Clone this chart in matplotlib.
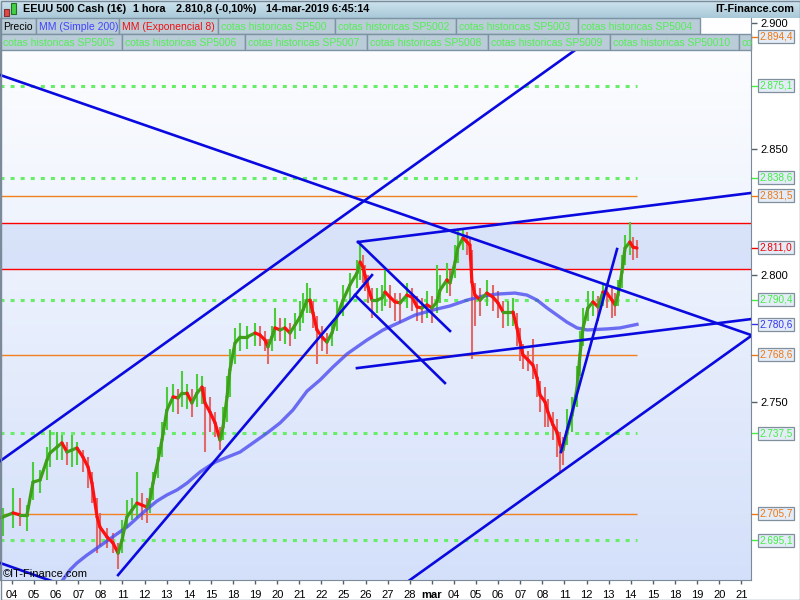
import numpy as np
import matplotlib.pyplot as plt
from matplotlib.colors import LinearSegmentedColormap
from matplotlib.collections import LineCollection
from matplotlib.patches import Rectangle
from matplotlib.transforms import blended_transform_factory

plt.rcParams['font.family'] = ['Liberation Sans', 'DejaVu Sans']

# ---- data ----
# x = trading day index (0 = 04 feb, 19 = 01 mar), y = index points

day_labels = ['04', '05', '06', '07', '08', '11', '12', '13', '14', '15',
              '18', '19', '20', '21', '22', '25', '26', '27', '28', 'mar',
              '04', '05', '06', '07', '08', '11', '12', '13', '14', '15',
              '18', '19', '20', '21']

# MM (Exponencial 8) - the thick red/green line
ema_t = [-0.54, -0.41, 0.05, 0.36, 0.68, 0.95, 1.27, 1.58, 1.72, 2.04,
         2.26, 2.49, 2.71, 2.94, 3.21, 3.44, 3.62, 3.85, 3.98, 4.30,
         4.57, 4.80, 4.98, 5.20, 5.43, 5.66, 5.88, 6.11, 6.24, 6.38,
         6.61, 6.79, 7.01, 7.29, 7.51, 7.69, 7.92, 8.14, 8.37, 8.60,
         8.73, 8.96, 9.19, 9.41, 9.55, 9.73, 9.86, 10.09, 10.32, 10.63,
         11.00, 11.22, 11.45, 11.58, 11.76, 11.90, 12.13, 12.35, 12.58, 12.81,
         13.03, 13.17, 13.35, 13.48, 13.62, 13.80, 14.03, 14.25, 14.48, 14.71,
         14.98, 15.29, 15.61, 15.75, 15.88, 15.97, 16.11, 16.29, 16.52, 16.74,
         16.88, 17.10, 17.33, 17.56, 17.87, 18.10, 18.33, 18.55, 18.78, 19.00,
         19.23, 19.37, 19.68, 19.82, 20.05, 20.18, 20.41, 20.59, 20.72, 20.81,
         20.95, 21.18, 21.49, 21.76, 21.99, 22.22, 22.44, 22.67, 22.85, 22.99,
         23.12, 23.35, 23.57, 23.76, 23.89, 24.12, 24.25, 24.48, 24.66, 24.80,
         24.93, 25.11, 25.34, 25.57, 25.70, 25.84, 26.06, 26.29, 26.52, 26.74,
         26.92, 27.15, 27.29, 27.42, 27.60, 27.74, 27.96, 28.10, 28.28]
ema_v = [2704.0, 2704.4, 2706.0, 2705.2, 2705.2, 2718.2, 2719.0, 2726.9, 2729.7, 2732.1,
         2733.7, 2730.1, 2730.9, 2731.7, 2728.1, 2724.2, 2717.8, 2704.4, 2700.4, 2696.5,
         2694.1, 2690.1, 2695.3, 2704.4, 2707.2, 2709.9, 2709.1, 2708.3, 2711.1, 2717.8,
         2726.9, 2735.0, 2746.7, 2751.9, 2751.5, 2753.4, 2753.4, 2749.5, 2753.4, 2755.8,
         2749.5, 2745.9, 2741.6, 2734.9, 2740.0, 2751.9, 2762.6, 2773.2, 2775.6, 2775.6,
         2777.2, 2776.4, 2774.4, 2771.7, 2775.6, 2779.2, 2778.4, 2779.2, 2777.2, 2780.4,
         2783.5, 2786.3, 2790.2, 2790.2, 2785.1, 2778.4, 2775.6, 2773.6, 2777.2, 2783.9,
         2790.2, 2796.2, 2800.9, 2805.3, 2803.3, 2800.1, 2795.4, 2790.2, 2790.2, 2791.0,
         2793.4, 2791.4, 2789.5, 2789.1, 2792.2, 2791.4, 2787.5, 2787.1, 2788.3, 2787.1,
         2789.5, 2794.2, 2798.2, 2797.0, 2805.3, 2811.2, 2814.8, 2813.2, 2812.0, 2797.4,
         2792.2, 2790.2, 2793.0, 2791.4, 2789.1, 2785.5, 2785.5, 2785.5, 2779.2, 2773.6,
         2768.5, 2766.5, 2764.5, 2759.4, 2752.7, 2749.9, 2745.9, 2740.8, 2738.0, 2732.9,
         2730.9, 2738.0, 2744.7, 2755.4, 2768.5, 2779.2, 2787.1, 2789.5, 2787.5, 2793.4,
         2793.0, 2790.2, 2788.3, 2792.2, 2801.3, 2810.8, 2813.2, 2811.2, 2810.8]

# Precio - hourly candle extremes at the same positions
candle_hi = [2712, 2708, 2716, 2712, 2709, 2726, 2723, 2732, 2739, 2738,
             2737, 2734, 2737, 2734, 2731, 2728, 2722, 2712, 2706, 2700,
             2698, 2694, 2703, 2711, 2712, 2722, 2714, 2712, 2716, 2722,
             2732, 2742, 2756, 2757, 2755, 2762, 2757, 2755, 2761, 2760,
             2756, 2752, 2746, 2740, 2748, 2760, 2771, 2779, 2781, 2780,
             2781, 2780, 2778, 2775, 2780, 2787, 2783, 2783, 2781, 2785,
             2790, 2793, 2797, 2795, 2790, 2784, 2780, 2777, 2782, 2790,
             2796, 2801, 2806, 2813, 2808, 2804, 2800, 2795, 2795, 2796,
             2802, 2796, 2793, 2793, 2797, 2795, 2792, 2791, 2794, 2792,
             2804, 2800, 2805, 2802, 2812, 2818, 2818, 2817, 2815, 2810,
             2797, 2795, 2798, 2796, 2794, 2790, 2790, 2791, 2785, 2779,
             2773, 2770, 2775, 2765, 2758, 2756, 2751, 2746, 2743, 2738,
             2736, 2747, 2752, 2764, 2778, 2787, 2794, 2794, 2792, 2797,
             2797, 2795, 2793, 2798, 2808, 2816, 2821, 2815, 2814]
candle_lo = [2698, 2697, 2700, 2701, 2699, 2711, 2714, 2719, 2724, 2727,
             2727, 2725, 2724, 2725, 2722, 2716, 2710, 2690, 2693, 2692,
             2690, 2684, 2690, 2700, 2703, 2704, 2703, 2702, 2706, 2711,
             2720, 2728, 2739, 2746, 2745, 2748, 2747, 2744, 2748, 2749,
             2730, 2738, 2736, 2731, 2735, 2742, 2752, 2765, 2770, 2771,
             2772, 2772, 2770, 2765, 2770, 2774, 2774, 2773, 2772, 2775,
             2778, 2781, 2785, 2785, 2779, 2765, 2770, 2769, 2772, 2778,
             2784, 2790, 2795, 2798, 2797, 2794, 2789, 2783, 2785, 2786,
             2788, 2787, 2782, 2781, 2787, 2786, 2782, 2781, 2783, 2781,
             2785, 2789, 2793, 2792, 2799, 2805, 2810, 2808, 2806, 2767,
             2780, 2784, 2788, 2786, 2783, 2779, 2780, 2780, 2772, 2766,
             2763, 2762, 2759, 2752, 2746, 2740, 2740, 2735, 2728, 2722,
             2725, 2733, 2738, 2748, 2760, 2772, 2782, 2784, 2782, 2788,
             2787, 2783, 2784, 2788, 2795, 2804, 2808, 2806, 2807]

# MM (Simple 200)
sma_t = [2.04, 2.62, 2.94, 3.39, 3.85, 4.30, 4.75, 5.20, 5.66, 6.11,
         6.56, 7.01, 7.47, 7.92, 8.51, 9.19, 10.32, 11.54, 12.13, 12.71,
         13.35, 13.94, 14.52, 15.16, 16.06, 16.79, 17.56, 18.24, 19.05, 19.82,
         20.59, 21.31, 21.95, 22.76, 23.30, 23.76, 24.21, 24.66, 25.11, 25.57,
         26.02, 26.92, 27.51, 28.28]
sma_v = [2676.3, 2683.4, 2686.2, 2689.3, 2692.1, 2694.9, 2697.7, 2700.4, 2704.0, 2707.5,
         2710.7, 2713.1, 2715.1, 2717.8, 2722.2, 2726.1, 2730.1, 2737.6, 2741.6, 2746.7,
         2754.2, 2758.6, 2763.7, 2768.9, 2774.4, 2778.4, 2781.5, 2784.3, 2786.3, 2787.9,
         2790.2, 2791.8, 2792.6, 2793.0, 2792.2, 2790.2, 2787.1, 2784.3, 2781.5, 2779.2,
         2778.4, 2778.8, 2779.2, 2780.6]

# hand drawn trend lines: (t0, p0, t1, p1)
trend_lines = [
    (-0.54, 2879.3, 33.44, 2776.4),
    (15.66, 2813.2, 33.44, 2832.6),
    (-0.54, 2726.5, 26.50, 2895.5),
    (4.80, 2681.4, 16.29, 2800.1),
    (15.66, 2813.2, 19.82, 2778.0),
    (15.52, 2792.2, 19.59, 2757.4),
    (15.61, 2763.3, 33.44, 2782.7),
    (17.60, 2676.9, 33.44, 2776.0),
    (-0.54, 2686.2, 2.17, 2677.9),
    (24.84, 2730.1, 27.38, 2810.4),
]

green_levels = [2875.1, 2838.6, 2790.4, 2737.5, 2695.1]   # cotas historicas
orange_levels = [2894.4, 2831.5, 2768.6, 2705.7]
band_lo, band_hi = 2802.5, 2820.7

label_levels = [2894.4, 2875.1, 2838.6, 2831.5, 2811.0, 2790.4, 2780.6,
                2768.6, 2737.5, 2705.7, 2695.1]
label_colors = ['#ee7711', '#44ee44', '#44ee44', '#ee7711', '#ee0000', '#44ee44',
                '#3333ee', '#ee7711', '#44ee44', '#ee7711', '#44ee44']

legend_row1 = [('Precio', '#000000'), ('MM (Simple 200)', '#4444ff'),
               ('MM (Exponencial 8)', '#ee1111'),
               ('cotas historicas SP500', '#55ee55'), ('cotas historicas SP5002', '#55ee55'),
               ('cotas historicas SP5003', '#55ee55'), ('cotas historicas SP5004', '#55ee55')]
legend_row2 = [('cotas historicas SP5005', '#55ee55'), ('cotas historicas SP5006', '#55ee55'),
               ('cotas historicas SP5007', '#55ee55'), ('cotas historicas SP5008', '#55ee55'),
               ('cotas historicas SP5009', '#55ee55'), ('cotas historicas SP50010', '#55ee55'),
               ('co', '#55ee55')]
edges_row1 = [0, 36, 119, 218, 335, 456, 578, 700]
edges_row2 = [0, 122, 245, 367, 488, 610, 739, 751]


def es_num(v, dec=1):
    s = f'{v:,.{dec}f}'
    return s.replace(',', 'X').replace('.', ',').replace('X', '.')


fig = plt.figure(figsize=(8, 6), dpi=100)
fig.patch.set_facecolor('white')

# main price panel
ax = fig.add_axes([0, 20 / 600, 751 / 800, 562 / 600])
x0, x1 = -0.543, 33.44
y0, y1 = 2679.45, 2901.84

grad = np.linspace(0, 1, 256).reshape(-1, 1)
bg_cmap = LinearSegmentedColormap.from_list('bg', ['#d4e0fa', '#ffffff'])
ax.imshow(grad, extent=[x0, x1, y0, y1], origin='lower', aspect='auto',
          cmap=bg_cmap, zorder=0)

ax.axhspan(band_lo, band_hi, facecolor='#c6d5f7', alpha=0.55, lw=0, zorder=0.5)
ax.axhline(band_lo, color='#ff0000', lw=1.0, zorder=1.5)
ax.axhline(band_hi, color='#ff0000', lw=1.0, zorder=1.5)

ax.hlines(green_levels, x0, ema_t[-1], colors='#66ee66', lw=2.2,
          linestyles=(0, (1.3, 2.0)), zorder=1)
ax.hlines(orange_levels, x0, ema_t[-1], colors='#f08020', lw=1, zorder=1)

t = np.array(ema_t)
v = np.array(ema_v)
up = np.r_[True, np.diff(v) >= 0]
ax.vlines(t, candle_lo, candle_hi, colors=list(np.where(up, '#4ccc3c', '#e06a6a')),
          lw=1.5, zorder=2)

ax.plot(sma_t, sma_v, color='#4848f0', alpha=0.78, lw=2.4, zorder=3)

pts = np.column_stack([t, v])
segs = np.stack([pts[:-1], pts[1:]], axis=1)
seg_cols = list(np.where(np.diff(v) >= 0, '#3f9f1a', '#ff1010'))
ax.add_collection(LineCollection(segs, colors=seg_cols, lw=2.3,
                                 capstyle='round', zorder=4))

for a, b, c, d in trend_lines:
    ax.plot([a, c], [b, d], color='#0a0ae0', lw=1.9, zorder=5)

ax.set_xlim(x0, x1)
ax.set_ylim(y0, y1)

ax.yaxis.tick_right()
ax.set_yticks([2750, 2800, 2850, 2900])
ax.set_yticklabels([es_num(y, 0) for y in [2750, 2800, 2850, 2900]])
ax.tick_params(axis='y', direction='out', length=4, width=1, color='#55616d',
               labelsize=8, pad=3)
ax.set_xticks(range(len(day_labels)))
ax.set_xticklabels(day_labels, fontsize=8)
ax.tick_params(axis='x', direction='out', length=3, width=1, color='#55616d', pad=4)
for lab in ax.get_xticklabels():
    if lab.get_text() == 'mar':
        lab.set_fontweight('bold')
for s in ['left', 'right', 'bottom']:
    ax.spines[s].set_color('#7a8a98')
ax.spines['top'].set_visible(False)

trans = blended_transform_factory(ax.transAxes, ax.transData)
for lv, col in zip(label_levels, label_colors):
    ax.plot([1.0, 1.008], [lv, lv], transform=trans, color=col, lw=1, clip_on=False)
    ax.text(1.011, lv, es_num(lv), transform=trans, ha='left', va='center',
            fontsize=7.2, color=col, clip_on=False, zorder=6,
            bbox=dict(boxstyle='square,pad=0.16', fc='#e4ecf8', ec='#7f8f9c', lw=0.9))

# header and legend strip, drawn in pixel units
ov = fig.add_axes([0, 0, 1, 1], zorder=10)
ov.patch.set_visible(False)
hdr_cmap = LinearSegmentedColormap.from_list('hdr', ['#d0e5ef', '#a9c8d8'])
ov.imshow(np.linspace(0, 1, 64).reshape(-1, 1), extent=[0, 800, 18, 0],
          aspect='auto', cmap=hdr_cmap, zorder=0)
ov.add_patch(Rectangle((4, 9), 5, 7, fc='#e04848', ec='#803030', lw=0.8))
ov.add_patch(Rectangle((11, 3), 5, 11, fc='#44d044', ec='#207020', lw=0.8))
for xp, txt in [(23, 'EEUU 500 Cash (1€)'), (133, '1 hora'),
                (176, '2.810,8 (-0,10%)'), (266, '14-mar-2019 6:45:14')]:
    ov.text(xp, 9.5, txt, ha='left', va='center', fontsize=7.8, fontweight='bold')
ov.text(794, 9.5, 'IT-Finance.com', ha='right', va='center', fontsize=7.8,
        fontweight='bold')

for row, edges, ytop in [(legend_row1, edges_row1, 18), (legend_row2, edges_row2, 34)]:
    for (txt, col), e0, e1 in zip(row, edges[:-1], edges[1:]):
        cell = Rectangle((e0, ytop), e1 - e0, 16, fc='#b9ccd8', ec='#7d93a3', lw=1)
        ov.add_patch(cell)
        tx = ov.text(e0 + 3, ytop + 8.5, txt, ha='left', va='center',
                     fontsize=7.5, color=col)
        tx.set_clip_path(cell)

ov.text(3, 574, '©IT-Finance.com', ha='left', va='center', fontsize=8)
ov.add_patch(Rectangle((0.5, 0.5), 799, 599, fill=False, ec='#7a8a98', lw=1))
ov.set_xlim(0, 800)
ov.set_ylim(600, 0)
ov.axis('off')

fig.savefig('out.png', dpi=100)
